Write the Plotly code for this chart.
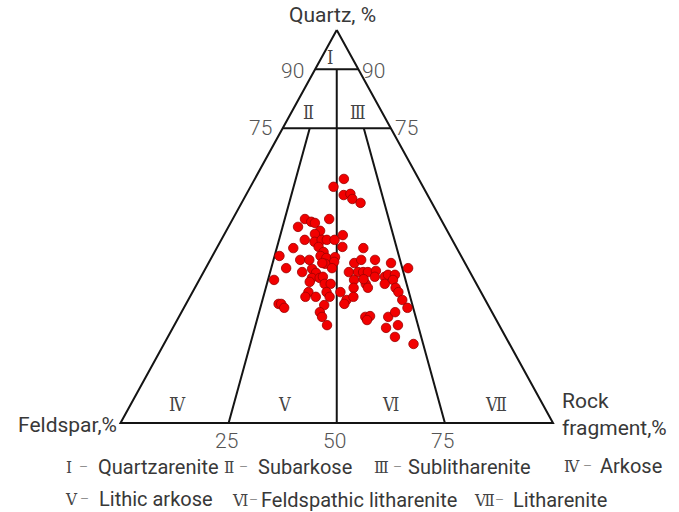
import numpy as np
import plotly.graph_objects as go

# Framework composition of the sandstone samples (%)
quartz = [62.1, 60.1, 58.0, 58.3, 57.0, 56.0, 51.9, 51.2, 50.9, 51.9, 49.9, 48.9, 48.1, 47.8,
          46.6, 46.1, 46.6, 46.6, 46.6, 44.8, 44.5, 44.8, 43.5, 44.5, 42.5, 41.5, 41.5, 42.5,
          42.0, 42.2, 41.0, 40.5, 40.7, 39.4, 39.2, 38.4, 38.2, 39.4, 36.4, 36.9, 36.9, 37.2,
          35.4, 35.4, 35.9, 33.3, 32.1, 33.3, 32.1, 32.1, 33.3, 30.3, 30.3, 29.3, 30.0, 28.2,
          27.0, 24.9, 40.7, 41.5, 41.5, 40.7, 39.4, 38.4, 38.4, 38.4, 38.4, 38.7, 37.2, 37.2,
          37.7, 37.7, 36.4, 35.4, 36.4, 35.4, 34.4, 34.4, 34.4, 33.3, 31.3, 29.3, 31.3, 30.3,
          32.1, 27.0, 27.2, 26.2, 27.0, 28.2, 24.2, 24.9, 21.9, 20.1, 36.6]
feldspar = [17.3, 20.7, 19.4, 17.7, 17.9, 16.5, 31.4, 30.3, 29.6, 25.8, 34.0, 29.4, 31.0, 24.7,
            34.1, 32.1, 30.2, 29.0, 27.2, 26.3, 37.8, 31.8, 31.3, 21.6, 42.0, 37.7, 35.6, 32.5,
            31.4, 29.3, 30.1, 32.4, 33.0, 42.0, 36.1, 38.8, 35.7, 31.4, 46.3, 37.3, 35.5, 34.6,
            35.1, 33.7, 38.3, 35.7, 35.6, 39.9, 41.2, 38.8, 32.5, 48.3, 47.7, 47.5, 37.9, 39.8,
            39.9, 39.8, 25.6, 23.6, 20.4, 17.1, 13.8, 28.0, 25.9, 24.7, 23.6, 21.6, 22.6, 20.3,
            19.3, 17.7, 18.8, 21.2, 27.8, 25.6, 25.6, 28.9, 19.2, 19.1, 19.2, 19.0, 32.1, 33.1,
            30.1, 29.9, 28.7, 29.9, 24.6, 22.4, 26.5, 23.4, 25.6, 22.2, 25.5]
rock_fragment = [20.6, 19.2, 22.6, 24.0, 25.1, 27.5, 16.7, 18.5, 19.5, 22.3, 16.1, 21.7, 20.9, 27.5,
                 19.3, 21.8, 23.2, 24.4, 26.2, 28.9, 17.7, 23.4, 25.2, 33.9, 15.5, 20.8, 22.9, 25.0,
                 26.6, 28.5, 28.9, 27.1, 26.3, 18.6, 24.7, 22.8, 26.1, 29.2, 17.3, 25.8, 27.6, 28.2,
                 29.5, 30.9, 25.8, 31.0, 32.3, 26.8, 26.7, 29.1, 34.2, 21.4, 22.0, 23.2, 32.1, 32.0,
                 33.1, 35.3, 33.7, 34.9, 38.1, 42.2, 46.8, 33.6, 35.7, 36.9, 38.0, 39.7, 40.2, 42.5,
                 43.0, 44.6, 44.8, 43.4, 35.8, 39.0, 40.0, 36.7, 46.4, 47.6, 49.5, 51.7, 36.6, 36.6,
                 37.8, 43.1, 44.1, 43.9, 48.4, 49.4, 49.3, 51.7, 52.5, 57.7, 37.9]

# Folk (1980) classification field boundaries as (Q, F, R) end points
boundaries = [
    [(100, 0, 0), (0, 100, 0), (0, 0, 100), (100, 0, 0)],
    [(90, 10, 0), (90, 0, 10)],
    [(75, 25, 0), (75, 0, 25)],
    [(90, 5, 5), (0, 50, 50)],
    [(75, 18.75, 6.25), (0, 75, 25)],
    [(75, 6.25, 18.75), (0, 25, 75)],
]

# Field numerals and names
fields = ["Ⅰ", "Ⅱ", "Ⅲ", "Ⅳ", "Ⅴ", "Ⅵ", "Ⅶ"]
field_names = ["Quartzarenite", "Subarkose", "Sublitharenite", "Arkose",
               "Lithic arkose", "Feldspathic litharenite", "Litharenite"]


def ternary_xy(q, f, r):
    """Project Q-F-R percentages onto the triangle plane (F at 0, R at 100, Q at top)."""
    q = np.asarray(q, float)
    f = np.asarray(f, float)
    r = np.asarray(r, float)
    s = q + f + r
    q, r = q / s * 100, r / s * 100
    return r + q / 2, q


fig = go.Figure()

# Triangle and field boundaries
bx, by = [], []
for seg in boundaries:
    q, f, r = zip(*seg)
    x, y = ternary_xy(q, f, r)
    bx += list(x) + [None]
    by += list(y) + [None]
fig.add_trace(go.Scatter(x=bx, y=by, mode="lines", hoverinfo="skip",
                         line=dict(color="#141414", width=2)))

# Samples
px_, py_ = ternary_xy(quartz, feldspar, rock_fragment)
fig.add_trace(go.Scatter(x=px_, y=py_, mode="markers",
                         marker=dict(size=9.5, color="#f20000",
                                     line=dict(color="#9a0000", width=0.8))))

TXT = "#383838"
NUM = "#555555"
SANS = "Roboto"
ROMAN = "DejaVu Serif Condensed, DejaVu Serif, Liberation Serif"
ann = []


def sans(size, color=TXT, weight=400):
    return dict(family=SANS, size=size, color=color, weight=weight)


def roman(size=17):
    return dict(family=ROMAN, size=size, color="#444444")


# Vertex titles
ax_, ay_ = ternary_xy([100], [0], [0])
ann.append(dict(x=ax_[0], y=ay_[0], text="Quartz, %", showarrow=False, xanchor="center",
                yanchor="bottom", xshift=-4, yshift=1, font=sans(21)))
fx_, fy_ = ternary_xy([0], [100], [0])
ann.append(dict(x=fx_[0], y=fy_[0], text="Feldspar,%", showarrow=False, xanchor="right",
                yanchor="middle", xshift=-2, yshift=-2, font=sans(21)))
rx_, ry_ = ternary_xy([0], [0], [100])
ann.append(dict(x=rx_[0], y=ry_[0], text="Rock<br>fragment,%", showarrow=False, xanchor="left",
                align="left", yanchor="middle", xshift=7, yshift=8, font=sans(21)))

# Quartz level labels on both sides
for lvl, yoff in [(90, -2), (75, 0)]:
    lx, ly = ternary_xy([lvl], [100 - lvl], [0])
    rx, ry = ternary_xy([lvl], [0], [100 - lvl])
    ann.append(dict(x=lx[0], y=ly[0], text=str(lvl), showarrow=False, xanchor="right",
                    yanchor="middle", xshift=-9, yshift=yoff, font=sans(21, NUM, 300)))
    ann.append(dict(x=rx[0], y=ry[0], text=str(lvl), showarrow=False, xanchor="left",
                    yanchor="middle", xshift=2, yshift=yoff, font=sans(21, NUM, 300)))

# Rock-fragment share labels along the base
for v in [25, 50, 75]:
    bxv, byv = ternary_xy([0], [100 - v], [v])
    ann.append(dict(x=bxv[0], y=byv[0], text=str(v), showarrow=False, xanchor="center",
                    yanchor="top", xshift=-2, yshift=-4, font=sans(21, NUM, 300)))

# Field numerals inside the triangle (x, Q position)
field_pos = [(48.5, 93), (43.5, 79.1), (55.0, 79.1), (13.1, 4.6), (38.0, 4.6), (62.5, 4.6), (86.8, 4.6)]
for lab, (x, y) in zip(fields, field_pos):
    ann.append(dict(x=x, y=y, text=lab, showarrow=False, xanchor="center", yanchor="middle",
                    font=roman(18)))

# Field key below the diagram: numeral centre, dash centre, name start, row centre (px)
key_num_x = [69, 229, 381, 572, 71.5, 240, 484.5]
key_dash_x = [83.5, 243.5, 397.5, 587, 84.5, 253, 499]
key_name_x = [97, 257, 407, 599, 98, 260, 512]
key_row_y = [467, 467, 467, 466, 499, 500, 500]
for lab, name, nx, dx, tx, ky in zip(fields, field_names, key_num_x, key_dash_x, key_name_x, key_row_y):
    yy = 1 - ky / 512
    ann.append(dict(x=nx / 679, y=yy, xref="paper", yref="paper", text=lab, showarrow=False,
                    xanchor="center", yanchor="middle", borderpad=0, font=roman(17)))
    ann.append(dict(x=dx / 679, y=yy, xref="paper", yref="paper", text="–", showarrow=False,
                    xanchor="center", yanchor="middle", borderpad=0, font=sans(14, "#777777", 300)))
    ann.append(dict(x=tx / 679, y=yy, xref="paper", yref="paper", text=name, showarrow=False,
                    xanchor="left", yanchor="middle", borderpad=0, font=sans(20)))

fig.update_layout(
    width=679, height=512,
    margin=dict(l=0, r=0, t=0, b=0),
    paper_bgcolor="white", plot_bgcolor="white",
    showlegend=False,
    xaxis=dict(range=[-27.86, 129.13], visible=False, fixedrange=True),
    yaxis=dict(range=[-22.65, 107.63], visible=False, fixedrange=True),
    annotations=ann,
)

fig.write_html("out.html")
